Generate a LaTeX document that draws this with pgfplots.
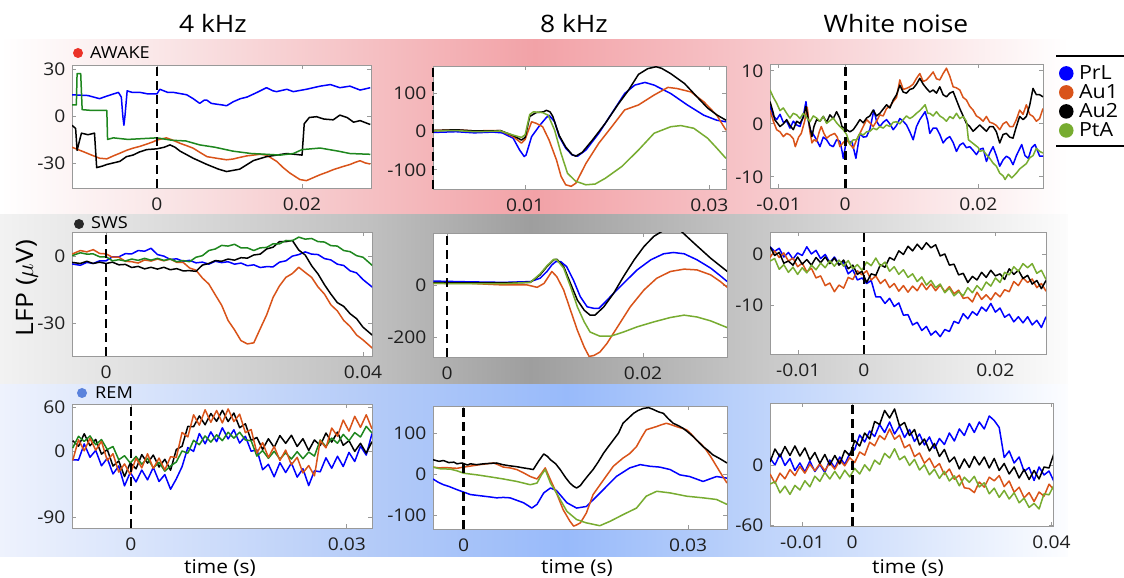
\documentclass[border=0pt]{standalone}
\usepackage{pgfplots}
\pgfplotsset{compat=1.18}
\usepackage{pgfplotstable}
\usepackage{fontspec}
\setmainfont{Open Sans}[FakeStretch=1.1]

\definecolor{cPrL}{RGB}{0,0,255}
\definecolor{cAuOne}{RGB}{217,83,25}
\definecolor{cAuTwo}{RGB}{0,0,0}
\definecolor{cPtA}{RGB}{119,172,48}
\definecolor{cPtAdark}{RGB}{30,135,30}
\definecolor{dotAwake}{RGB}{235,50,40}
\definecolor{dotSws}{RGB}{40,40,40}
\definecolor{dotRem}{RGB}{90,130,220}
% band colours, left to right
\definecolor{awA}{RGB}{255,255,255}\definecolor{awB}{RGB}{250,232,233}
\definecolor{awC}{RGB}{245,192,195}\definecolor{awD}{RGB}{242,162,167}
\definecolor{awE}{RGB}{246,192,196}\definecolor{awF}{RGB}{250,224,226}
\definecolor{swA}{RGB}{242,242,242}\definecolor{swB}{RGB}{222,222,222}
\definecolor{swC}{RGB}{192,192,192}\definecolor{swD}{RGB}{158,158,158}
\definecolor{swE}{RGB}{192,192,192}\definecolor{swF}{RGB}{224,224,224}
\definecolor{swG}{RGB}{252,252,252}
\definecolor{rmA}{RGB}{238,242,253}\definecolor{rmB}{RGB}{215,227,251}
\definecolor{rmC}{RGB}{180,203,248}\definecolor{rmD}{RGB}{152,186,250}
\definecolor{rmE}{RGB}{182,206,250}\definecolor{rmF}{RGB}{217,229,252}
\definecolor{rmG}{RGB}{252,253,255}

\newcommand\ticksize{\fontsize{17.5}{20}\selectfont}
\newcommand\legsize{\fontsize{19.5}{21}\selectfont}
\newcommand\titlesize{\fontsize{24}{27}\selectfont}
\newcommand\statesize{\fontsize{16.5}{19}\selectfont}
\newcommand\labelsize{\fontsize{19}{22}\selectfont}

\pgfplotsset{
  panel/.style={
    scale only axis,
    axis background/.style={fill=white},
    axis line style={draw=black!40, line width=0.8pt},
    tick style={draw=black!40, line width=0.8pt},
    major tick length=4pt,
    tick align=inside,
    scaled ticks=false,
    tick label style={font=\ticksize, text=black!88},
    xticklabel style={yshift=-6pt},
    yticklabel style={xshift=-3pt},
    every axis plot/.append style={line width=1.5pt, line join=round},
  },
  sPrL/.style={color=cPrL},
  sAuOne/.style={color=cAuOne},
  sAuTwo/.style={color=cAuTwo},
  sPtA/.style={color=cPtA},
  sPtAd/.style={color=cPtAdark},
}
% stimulus onset marker
\newcommand\onset[2]{\draw[black, line width=2.6pt, dash pattern=on 9pt off 5pt] (axis cs:0,#1) -- (axis cs:0,#2);}

% SWS, 4 kHz
\pgfplotstableread{
t b o k g
-0.0053 -3.6 0.8 -2.9 0.1
-0.004 -4.2 2.4 -3.4 1.4
-0.003 -2.9 1.8 -2.4 0.8
-0.002 -3.4 2.8 -3.4 0.9
-0.001 -2.2 1.1 -2.8 -0.4
0.000 -2.2 0.9 -3.4 -0.4
0.001 -0.4 -0.6 -2.8 -2.2
0.002 -0.4 -0.6 -4.0 -1.7
0.003 1.0 -2.4 -3.8 -2.3
0.004 0.9 -2.6 -5.2 -1.4
0.005 2.4 -3.2 -4.7 -2.0
0.006 2.1 -1.8 -5.8 -1.1
0.007 3.4 -2.3 -5.1 -1.9
0.008 0.6 -1.4 -5.9 -1.1
0.009 -0.1 -2.2 -5.1 -2.0
0.010 -1.6 -1.4 -6.2 -1.4
0.011 -1.3 -2.9 -5.7 -2.6
0.012 -2.4 -2.9 -6.7 -2.1
0.013 -2.0 -5.4 -6.6 -2.6
0.014 -3.1 -6.4 -6.9 -0.6
0.015 -2.8 -9.9 -4.1 0.1
0.016 -3.7 -12.6 -3.4 2.4
0.017 -2.4 -17.4 -2.1 3.1
0.018 -3.0 -22.1 -2.4 4.7
0.019 -2.6 -28.9 -1.4 4.4
0.020 -3.7 -33.1 -1.9 5.2
0.021 -3.2 -37.9 -0.8 3.6
0.022 -4.4 -39.4 -1.0 3.6
0.023 -4.0 -38.9 0.4 2.4
0.024 -5.2 -32.6 0.8 3.6
0.025 -4.8 -26.4 3.1 3.8
0.026 -4.9 -18.6 3.9 5.4
0.027 -2.8 -13.4 6.4 5.4
0.028 -2.2 -9.6 6.4 6.9
0.029 -0.1 -7.9 6.9 6.8
0.030 0.6 -5.1 2.6 8.4
0.031 1.8 -7.4 0.4 7.5
0.032 0.8 -9.6 -4.4 7.8
0.033 0.6 -13.9 -8.1 6.4
0.034 -1.2 -17.1 -12.9 6.2
0.035 -1.8 -21.9 -17.1 4.6
0.036 -3.7 -24.6 -20.9 4.4
0.037 -4.3 -28.9 -22.6 2.4
0.038 -6.7 -31.6 -25.9 1.9
0.039 -7.6 -35.4 -28.1 0.1
0.040 -10.6 -37.6 -31.9 -0.6
0.0415 -14.1 -41.4 -35.6 -4.4
}\tabSwsFour

% SWS, white noise
\pgfplotstableread{
t b o k g
-0.0143 1.4 -0.7 1.4 -1.4
-0.0136 0.5 0.6 -0.3 -0.9
-0.0129 1.1 -0.7 0.3 -3.0
-0.0122 -0.6 0.2 -1.8 -2.1
-0.0115 0.3 -1.4 -1.4 -3.6
-0.0108 -1.0 -0.8 -2.2 -2.6
-0.0101 0.2 -2.5 -0.6 -4.0
-0.0094 -0.3 -1.8 -2.0 -2.7
-0.0087 1.4 -3.5 -1.1 -3.7
-0.0080 0.0 -2.8 -2.2 -2.2
-0.0073 0.7 -4.7 -0.7 -3.1
-0.0066 -0.9 -4.3 -1.7 -1.8
-0.0059 -0.1 -6.2 -0.6 -2.7
-0.0052 -1.7 -5.7 -1.9 -1.3
-0.0045 -0.6 -7.4 -0.8 -2.4
-0.0038 -2.0 -6.1 -2.2 -1.2
-0.0031 -1.7 -6.7 -1.2 -2.4
-0.0024 -3.9 -4.6 -2.9 -1.3
-0.0017 -3.1 -5.0 -2.2 -2.9
-0.0010 -5.1 -3.3 -4.0 -2.1
-0.0003 -4.7 -4.1 -3.4 -3.2
0.0004 -5.8 -3.3 -5.6 -1.6
0.0011 -5.2 -5.1 -3.9 -2.3
0.0018 -8.4 -4.3 -4.2 -0.8
0.0025 -8.4 -5.8 -2.1 -2.4
0.0032 -9.7 -5.0 -2.6 -1.6
0.0039 -8.7 -6.6 -0.7 -3.4
0.0046 -10.3 -5.8 -1.2 -2.5
0.0053 -9.6 -7.3 0.6 -4.0
0.0060 -12.0 -6.2 -0.1 -3.1
0.0067 -11.9 -7.5 1.5 -4.6
0.0074 -13.9 -6.3 0.6 -3.9
0.0081 -13.4 -7.2 1.9 -5.4
0.0088 -15.0 -5.7 0.9 -4.5
0.0095 -14.2 -7.0 2.2 -6.1
0.0102 -15.9 -5.9 1.2 -5.2
0.0109 -15.1 -7.2 1.8 -6.6
0.0116 -16.2 -6.1 -0.4 -5.9
0.0123 -14.8 -7.4 0.0 -7.6
0.0130 -15.2 -6.4 -2.2 -6.7
0.0137 -13.2 -7.8 -2.0 -8.2
0.0144 -13.6 -7.1 -4.1 -7.4
0.0151 -11.7 -8.7 -3.8 -8.2
0.0158 -12.7 -8.5 -5.6 -6.6
0.0165 -11.3 -9.4 -4.4 -7.6
0.0172 -12.0 -7.5 -5.1 -6.2
0.0179 -10.4 -8.9 -3.6 -7.1
0.0186 -11.2 -8.0 -4.6 -5.5
0.0193 -9.7 -9.0 -3.2 -6.3
0.0200 -11.4 -7.6 -4.3 -4.7
0.0207 -10.6 -8.4 -3.9 -5.6
0.0214 -12.4 -7.0 -5.0 -3.6
0.0221 -11.8 -7.4 -2.9 -4.1
0.0228 -13.3 -5.4 -4.0 -2.5
0.0235 -12.3 -6.2 -3.2 -3.4
0.0242 -13.5 -4.7 -4.8 -1.9
0.0249 -12.3 -5.6 -4.2 -2.7
0.0256 -13.9 -4.9 -5.9 -1.9
0.0263 -13.0 -6.6 -5.2 -3.8
0.0270 -14.4 -5.8 -6.8 -3.2
0.0277 -12.3 -7.3 -5.2 -5.0
}\tabSwsNoise

% REM, 4 kHz
\pgfplotstableread{
t b o k g
-0.0081 -12 -13 14 4
-0.0073 -12.4 15.2 6.4 20
-0.0065 9.6 0.2 23.4 13
-0.0057 -8.6 17.3 7.1 20.5
-0.0049 0.8 1.1 15.7 8.5
-0.0041 -20.2 13.1 -4.3 15.5
-0.0033 -10 -13 2 2
-0.0025 -31.4 -3.8 -20.6 6
-0.0017 -20.4 -28.8 -13.6 -12
-0.0009 -47.6 -17.7 -34.9 -6.5
-0.0001 -29.2 -31.9 -16.3 -16.5
0.0007 -42.2 -9.9 -24.3 -7.5
0.0015 -26 -23 -5 -18
0.0023 -39.4 -3.8 -16.6 -10
0.0031 -22.4 -23.8 -5.6 -23
0.0039 -41.6 -9.7 -21.9 -15.5
0.0047 -32.2 -25.9 -11.3 -27.5
0.0055 -52.2 -7.9 -26.3 -20.5
0.0063 -38 -9 2 -15
0.0071 -21.4 25.2 6.4 0
0.0079 4.6 19.2 33.4 -3
0.0087 -0.6 49.3 33.1 14.5
0.0095 23.8 35.1 47.7 8.5
0.0103 9.8 56.1 35.7 20.5
0.0111 26 39 51 12
0.0119 12.6 55.2 40.4 22
0.0127 31.6 38.2 55.4 14
0.0135 16.4 57.3 40.1 25.5
0.0143 28.8 40.1 51.7 17.5
0.0151 10.8 50.1 31.7 25.5
0.0159 20 25 37 15
0.0167 -0.4 29.2 14.4 14
0.0175 1.6 -2.8 18.4 -7
0.0183 -25.6 11.3 2.1 0.5
0.0191 -18.2 -8.9 16.7 -10
0.0199 -35.2 6.1 4.7 -0.5
0.0207 -16 -13 21 -11
0.0215 -29.4 1.2 10.4 -2.5
0.0223 -16.4 -18.8 21.4 -11
0.0231 -35.6 -8.7 6.1 -1
0.0239 -24.2 -29.9 16.7 -10.5
0.0247 -47.2 -19.9 0.7 -1.5
0.0255 -27 -34 15 -7
0.0263 -28.4 14.2 7.4 15
0.0271 -9.4 4.2 24.4 6
0.0279 -23.6 31.3 12.1 17.5
0.0287 -7.2 20.1 25.7 10.5
0.0295 -21.2 42.1 7.7 22.5
0.0303 -2 27 14 14
0.0311 -14.4 47.2 -0.6 25
0.0319 6.6 32.2 10.4 19
0.0327 -5.6 49.3 -2.9 33.5
0.0335 23.8 30.1 12.7 24.5
}\tabRemFour

% REM, white noise
\pgfplotstableread{
t b o k g
-0.0165 7 -9 3 -19
-0.0155 0 -18.2 16 -16.8
-0.0145 11 -8.2 8 -27.8
-0.0135 -0.5 -13.8 18.5 -21.2
-0.0125 6.5 -4.6 9.5 -29.4
-0.0115 -5.5 -10.6 19 -20.4
-0.0105 2 -1.5 9 -25
-0.0095 -7 -8.2 17 -15.8
-0.0085 4 0.8 5 -21.8
-0.0075 -6.5 -5.8 12.5 -11.2
-0.0065 0.5 1.4 1.5 -16.4
-0.0055 -7.5 -5.6 10.5 -7.4
-0.0045 5 2 0 -14
-0.0035 -3 -4.2 9.5 -6.3
-0.0025 8 4.8 1 -13.8
-0.0015 0.5 -0.8 14.5 -5.2
-0.0005 11.5 7.4 9.5 -11.9
0.0005 15.5 2.4 24.5 -3.4
0.0015 30 13 19 -9
0.0025 23 9.8 32 0.2
0.0035 34 22.8 26 -5.8
0.0045 28.5 19.2 43.5 4.8
0.0055 40.5 29.4 40.5 0.6
0.0065 32.5 25.4 54.5 11.6
0.0075 43 36 47 7
0.0085 31 25.8 56 16.2
0.0095 39 29.8 39 5.2
0.0105 27.5 17.2 42.5 8.8
0.0115 35.5 20.4 29.5 -0.4
0.0125 23.5 8.4 35.5 5.6
0.0135 31 12 20 -5
0.0145 20 1.8 26 0.2
0.0155 28 6.8 14 -9.8
0.0165 16.5 -2.8 21.5 -4.2
0.0175 26.5 1.4 8.5 -13.4
0.0185 20.5 -9.6 15.5 -6.4
0.0195 32 -4 3 -16
0.0205 24 -14.2 8 -10.8
0.0215 36 -10.2 -4 -20.8
0.0225 29.5 -22.8 6 -12.2
0.0235 41.5 -23.6 -2.5 -17.4
0.0245 32.5 -27.6 8.5 -11.4
0.0255 43 -17 0 -22
0.0265 36 -22.2 8 -17.8
0.0275 49 -12.2 -3 -28.8
0.0285 44.5 -15.8 6.5 -23.2
0.0295 37.5 -10.6 -5.5 -32.4
0.0305 7.5 -21.6 1.5 -25.4
0.0315 14 -16 -9 -34
0.0325 2 -27.2 -2 -27.8
0.0335 8 -22.2 -13 -37.8
0.0345 -6.5 -32.8 -4.5 -33.2
0.0355 -2.5 -27.6 -14.5 -42.4
0.0365 -15.5 -36.6 -5.5 -38.4
0.0375 -2 -27 -14 -44
0.0385 -10 -31.2 -2 -28.8
0.0395 -6 -19.2 -3 -29.8
0.0405 -16.5 -24.8 11.5 -20.2
}\tabRemNoise

\begin{document}
\begin{tikzpicture}[x=1pt,y=1pt]
\useasboundingbox (0,0) rectangle (1124,578);

% state bands (horizontal colour ramps)
\shade[left color=awA, right color=awB] (0,363) rectangle (151,538);
\shade[left color=awB, right color=awC] (150,363) rectangle (371,538);
\shade[left color=awC, right color=awD] (370,363) rectangle (535,538);
\shade[left color=awD, right color=awE] (534,363) rectangle (721,538);
\shade[left color=awE, right color=awF] (720,363) rectangle (901,538);
\shade[left color=awF, right color=awA] (900,363) rectangle (1068,538);

\shade[left color=swA, right color=swB] (0,193) rectangle (151,363);
\shade[left color=swB, right color=swC] (150,193) rectangle (371,363);
\shade[left color=swC, right color=swD] (370,193) rectangle (531,363);
\shade[left color=swD, right color=swE] (530,193) rectangle (721,363);
\shade[left color=swE, right color=swF] (720,193) rectangle (901,363);
\shade[left color=swF, right color=swG] (900,193) rectangle (1068,363);

\shade[left color=rmA, right color=rmB] (0,21) rectangle (151,193);
\shade[left color=rmB, right color=rmC] (150,21) rectangle (371,193);
\shade[left color=rmC, right color=rmD] (370,21) rectangle (567,193);
\shade[left color=rmD, right color=rmE] (566,21) rectangle (721,193);
\shade[left color=rmE, right color=rmF] (720,21) rectangle (901,193);
\shade[left color=rmF, right color=rmG] (900,21) rectangle (1068,193);

% column titles
\node[font=\titlesize, anchor=base] at (213,545) {4 kHz};
\node[font=\titlesize, anchor=base] at (574,545) {8 kHz};
\node[font=\titlesize, anchor=base] at (896,545) {White noise};

% state labels
\fill[dotAwake] (78,525) circle (5);
\node[font=\statesize, anchor=base west, inner sep=0pt] at (90,519) {AWAKE};
\fill[dotSws] (79,354) circle (5);
\node[font=\statesize, anchor=base west, inner sep=0pt] at (91,349) {SWS};
\fill[dotRem] (82,185) circle (5);
\node[font=\statesize, anchor=base west, inner sep=0pt] at (95,179) {REM};

% shared labels
\node[font=\titlesize, rotate=90, anchor=base, inner sep=0pt] at (33,290) {LFP ($\mu$V)};
\node[font=\labelsize, anchor=base, inner sep=0pt] at (220,5) {time (s)};
\node[font=\labelsize, anchor=base, inner sep=0pt] at (577,5) {time (s)};
\node[font=\labelsize, anchor=base, inner sep=0pt] at (908,5) {time (s)};

%---------------- AWAKE, 4 kHz
\begin{axis}[panel, at={(72pt,390pt)}, anchor=south west, width=299pt, height=123pt,
  xmin=-0.0117, xmax=0.0295, ymin=-46, ymax=32.5,
  xtick={0,0.02}, xticklabels={0,0.02}, ytick={-30,0,30}, yticklabels={-30,0,30}]
\addplot[sPrL] coordinates {(-0.0117,13.5) (-0.0095,13) (-0.0079,11) (-0.0070,12.5) (-0.0060,14) (-0.0053,15) (-0.0049,12) (-0.0047,0) (-0.00455,-6) (-0.0044,0) (-0.0041,16) (-0.0034,15) (-0.0023,15) (-0.0012,14) (0.0000,14) (0.0004,17) (0.0015,15) (0.0023,15) (0.0035,14) (0.0041,13.5) (0.0050,11) (0.0059,8) (0.0065,10) (0.0069,10) (0.0075,8) (0.0082,7.5) (0.0090,7) (0.0096,6.5) (0.0105,9) (0.0115,11) (0.0124,12) (0.0138,15) (0.0151,18) (0.0160,16) (0.0165,15.5) (0.0179,17) (0.0188,15.5) (0.0206,17) (0.0225,19) (0.0239,20) (0.0252,18) (0.0266,19) (0.0280,16.5) (0.0294,18)};
\addplot[sAuOne] coordinates {(-0.0117,-20) (-0.0102,-22.7) (-0.0090,-25) (-0.0079,-27) (-0.0069,-27.4) (-0.0060,-25.5) (-0.0051,-23.8) (-0.0042,-22) (-0.0033,-20.6) (-0.0024,-19.5) (-0.0014,-18) (-0.0005,-16.5) (0.0000,-15.4) (0.0013,-14) (0.0022,-15.5) (0.0032,-17.5) (0.0041,-19) (0.0050,-20.6) (0.0060,-23.5) (0.0069,-26) (0.0082,-27) (0.0096,-28) (0.0105,-27.5) (0.0114,-26.5) (0.0124,-25.5) (0.0133,-25) (0.0142,-24.5) (0.0151,-25) (0.0165,-29) (0.0174,-33) (0.0183,-36.4) (0.0197,-40.6) (0.0206,-41.3) (0.0215,-39.5) (0.0225,-37.5) (0.0234,-36) (0.0243,-34.3) (0.0255,-32.5) (0.0266,-31) (0.0274,-29.5) (0.0280,-28.6) (0.0287,-30) (0.0294,-30.7)};
\addplot[sAuTwo] coordinates {(-0.0117,-6) (-0.0112,-8) (-0.0110,-22) (-0.0104,-11) (-0.0095,-12) (-0.0086,-11) (-0.0083,-33) (-0.0075,-32) (-0.0069,-31) (-0.0060,-30) (-0.0051,-29) (-0.0042,-26) (-0.0033,-25) (-0.0024,-23) (-0.0014,-21.5) (0,-21) (0.0010,-20) (0.0018,-18.5) (0.0025,-20) (0.0032,-22.5) (0.0050,-27) (0.0069,-31) (0.0085,-34) (0.0096,-35.5) (0.0114,-34) (0.0133,-28.5) (0.0151,-26) (0.0165,-25) (0.0179,-24) (0.0190,-24.5) (0.0200,-25) (0.0203,-5) (0.0210,-1) (0.0220,-0.5) (0.0230,-2) (0.0243,-2.5) (0.0252,0.5) (0.0262,-1) (0.0271,-4) (0.0280,-3) (0.0294,-5.5)};
\addplot[sPtAd] coordinates {(-0.0117,7) (-0.0111,7) (-0.0110,27) (-0.0105,27) (-0.0103,4) (-0.0090,3.5) (-0.0069,3.5) (-0.0068,-15) (-0.0060,-14) (-0.0040,-15) (-0.0020,-14.5) (0,-14) (0.0020,-15.5) (0.0040,-16) (0.0059,-18.5) (0.0080,-20) (0.0105,-22.5) (0.0130,-24) (0.0151,-24.5) (0.0170,-25) (0.0188,-24) (0.0200,-21.5) (0.0225,-20.5) (0.0250,-22.5) (0.0266,-24) (0.0294,-24.5)};
\onset{-46}{32.5}
\end{axis}

%---------------- AWAKE, 8 kHz (all traces lie inside the limits)
\begin{axis}[panel, at={(433pt,389pt)}, anchor=south west, width=293pt, height=123pt,
  xmin=0, xmax=0.0318, ymin=-150, ymax=172, clip=false,
  xtick={0.01,0.03}, xticklabels={0.01,0.03}, ytick={-100,0,100}, yticklabels={-100,0,100}]
\addplot[sPrL] coordinates {(0,-2) (0.0025,0) (0.0045,-3) (0.0065,-1) (0.0075,-3) (0.0087,-17) (0.0094,-48) (0.0099,-65) (0.0101,-61) (0.0107,-13) (0.0116,17) (0.0123,37) (0.0126,43) (0.0132,26) (0.0137,-13) (0.0144,-43) (0.0151,-61) (0.0157,-64) (0.0166,-48) (0.0180,-4) (0.0194,48) (0.0208,100) (0.0219,122) (0.0230,129) (0.0240,122) (0.0258,100) (0.0276,70) (0.0294,43) (0.0308,30) (0.0318,26)};
\addplot[sAuOne] coordinates {(0,3) (0.0025,5) (0.0045,2) (0.0065,3) (0.0073,3) (0.0087,-13) (0.0096,-30) (0.0100,-20) (0.0107,26) (0.0112,22) (0.0119,13) (0.0126,-22) (0.0134,-74) (0.0139,-117) (0.0144,-139) (0.0150,-143) (0.0155,-135) (0.0166,-83) (0.0180,-30) (0.0194,13) (0.0208,57) (0.0223,70) (0.0240,96) (0.0255,116) (0.0265,113) (0.0280,104) (0.0294,78) (0.0308,43) (0.0318,4)};
\addplot[sAuTwo] coordinates {(0,3) (0.0025,5) (0.0045,2) (0.0065,2) (0.0073,3) (0.0087,-10) (0.0096,-22) (0.0100,-15) (0.0105,40) (0.0112,50) (0.0120,52) (0.0123,56) (0.0127,52) (0.0130,40) (0.0137,-10) (0.0144,-40) (0.0151,-60) (0.0155,-64) (0.0162,-54) (0.0173,-22) (0.0187,22) (0.0201,72) (0.0212,108) (0.0223,150) (0.0233,165) (0.0242,170) (0.0248,166) (0.0258,152) (0.0273,126) (0.0287,90) (0.0298,62) (0.0308,44) (0.0318,30)};
\addplot[sPtA] coordinates {(0,2) (0.0025,3) (0.0045,0) (0.0065,1) (0.0073,2) (0.0087,-9) (0.0096,-15) (0.0100,-8) (0.0105,45) (0.0109,52) (0.0119,50) (0.0125,43) (0.0132,4) (0.0139,-57) (0.0146,-109) (0.0155,-130) (0.0166,-139) (0.0176,-137) (0.0187,-122) (0.0205,-91) (0.0223,-48) (0.0240,-4) (0.0258,13) (0.0269,16) (0.0283,9) (0.0298,-17) (0.0308,-43) (0.0318,-70)};
\onset{-150}{172}
\end{axis}

%---------------- AWAKE, white noise (with legend)
\begin{axis}[panel, at={(770pt,390pt)}, anchor=south west, width=273pt, height=124pt,
  xmin=-0.0113, xmax=0.0297, ymin=-12.1, ymax=11.3,
  xtick={-0.01,0,0.02}, xticklabels={-0.01,0,0.02}, ytick={-10,0,10}, yticklabels={-10,0,10},
  legend style={at={(1.058,1.0)}, anchor=north west, draw=none, fill=none, font=\legsize,
    row sep=0.5pt, column sep=4pt, inner sep=0pt, nodes={inner sep=1.5pt}},
  legend cell align=left,
  legend image code/.code={\fill (0pt,0pt) circle (6.5pt);}]
\addplot[sPrL] coordinates {(-0.0113,3.3) (-0.0108,1.5) (-0.0103,0.8) (-0.0098,1.8) (-0.0093,0.3) (-0.0088,0.5) (-0.0083,-0.8) (-0.0078,0.5) (-0.0073,-0.2) (-0.0068,-0.5) (-0.0063,1.5) (-0.0059,4.2) (-0.0056,1.0) (-0.0053,-1.1) (-0.0048,-2.0) (-0.0043,-3.0) (-0.0038,-4.3) (-0.0033,-2.5) (-0.0028,-3.0) (-0.0023,-4.0) (-0.0018,-4.3) (-0.0013,-3.0) (-0.0008,-3.3) (-0.0005,-5.0) (-0.0003,-6.5) (0.0002,-3.0) (0.0007,-3.5) (0.0010,-3.3) (0.0016,-6.5) (0.0022,-1.8) (0.0027,-2.5) (0.0032,-2.4) (0.0037,-1.0) (0.0043,2.6) (0.0047,0.5) (0.0052,-0.5) (0.0057,0.3) (0.0062,0.8) (0.0067,0.0) (0.0072,-1.1) (0.0077,-0.3) (0.0082,1.0) (0.0087,0.5) (0.0092,-0.2) (0.0097,-1.5) (0.0102,-3.0) (0.0107,-0.5) (0.0112,0.8) (0.0120,2.3) (0.0124,0.5) (0.0127,-1.8) (0.0132,-0.8) (0.0137,-0.8) (0.0142,-2.0) (0.0147,-3.6) (0.0152,-2.8) (0.0157,-2.4) (0.0162,-3.5) (0.0167,-5.2) (0.0172,-4.0) (0.0177,-3.6) (0.0182,-4.5) (0.0187,-4.3) (0.0192,-5.0) (0.0197,-5.8) (0.0202,-4.8) (0.0207,-4.6) (0.0212,-7.1) (0.0217,-5.5) (0.0222,-4.3) (0.0227,-6.0) (0.0232,-8.0) (0.0237,-6.8) (0.0242,-6.1) (0.0247,-6.5) (0.0252,-7.7) (0.0257,-6.0) (0.0265,-3.9) (0.0270,-6.0) (0.0275,-6.5) (0.0280,-4.5) (0.0285,-3.9) (0.0292,-6.1) (0.0297,-6.1)};
\addlegendentry{PrL}
\addplot[sAuOne] coordinates {(-0.0113,2.6) (-0.0108,0.5) (-0.0103,-1.1) (-0.0098,-1.5) (-0.0093,-2.4) (-0.0088,-1.8) (-0.0083,-2.1) (-0.0078,-2.8) (-0.0075,-4.3) (-0.0070,-2.5) (-0.0066,-1.8) (-0.0061,0.5) (-0.0057,3.1) (-0.0053,-1.5) (-0.0050,-3.6) (-0.0047,-3.0) (-0.0043,-3.3) (-0.0039,-1.5) (-0.0036,-0.5) (-0.0032,-1.8) (-0.0028,-2.7) (-0.0023,-2.2) (-0.0016,-1.8) (-0.0012,-2.5) (-0.0008,-4.3) (-0.0003,-3.5) (0.0002,-3.0) (0.0007,-3.8) (0.0012,-4.6) (0.0017,-3.0) (0.0022,-1.8) (0.0027,-0.5) (0.0032,0.8) (0.0037,0.2) (0.0042,-0.5) (0.0047,0.5) (0.0052,1.7) (0.0057,1.5) (0.0062,2.9) (0.0067,3.3) (0.0072,4.2) (0.0077,5.0) (0.0082,8.3) (0.0087,6.5) (0.0092,6.7) (0.0097,7.0) (0.0102,7.5) (0.0107,8.6) (0.0112,9.5) (0.0117,8.0) (0.0122,8.3) (0.0127,9.0) (0.0132,9.8) (0.0137,8.5) (0.0142,8.3) (0.0147,9.5) (0.0152,10.5) (0.0157,9.0) (0.0162,7.0) (0.0167,6.8) (0.0172,6.4) (0.0177,5.0) (0.0182,4.5) (0.0187,3.3) (0.0192,2.6) (0.0197,1.5) (0.0202,1.1) (0.0207,0.5) (0.0212,1.4) (0.0217,0.3) (0.0222,0.1) (0.0227,-0.3) (0.0232,-1.1) (0.0237,0.0) (0.0242,0.4) (0.0247,-0.5) (0.0252,-0.5) (0.0257,0.8) (0.0262,2.6) (0.0267,1.8) (0.0272,3.6) (0.0277,1.8) (0.0282,1.4) (0.0287,0.5) (0.0292,1.0) (0.0297,2.9)};
\addlegendentry{Au1}
\addplot[sAuTwo] coordinates {(-0.0113,4.2) (-0.0108,2.0) (-0.0106,0.8) (-0.0101,0.0) (-0.0098,-0.5) (-0.0093,0.0) (-0.0088,0.8) (-0.0083,-0.3) (-0.0078,-1.1) (-0.0073,0.5) (-0.0068,0.1) (-0.0063,1.2) (-0.0059,3.3) (-0.0055,0.5) (-0.0050,-2.4) (-0.0047,-0.5) (-0.0043,0.8) (-0.0038,0.5) (-0.0033,1.4) (-0.0028,0.3) (-0.0023,1.7) (-0.0018,1.0) (-0.0013,2.3) (-0.0008,1.0) (-0.0005,-0.5) (0.0002,-1.1) (0.0007,-1.5) (0.0012,-1.1) (0.0017,-0.2) (0.0022,0.8) (0.0027,0.2) (0.0032,1.1) (0.0037,1.5) (0.0042,2.6) (0.0047,1.5) (0.0052,2.0) (0.0057,2.8) (0.0062,3.6) (0.0067,3.0) (0.0072,4.5) (0.0077,5.5) (0.0082,7.3) (0.0087,6.0) (0.0092,5.8) (0.0097,6.5) (0.0102,6.7) (0.0107,7.5) (0.0112,8.6) (0.0117,7.5) (0.0122,6.7) (0.0127,6.0) (0.0132,6.4) (0.0137,5.8) (0.0142,7.0) (0.0147,5.5) (0.0152,5.1) (0.0157,5.8) (0.0162,6.1) (0.0167,4.5) (0.0172,2.9) (0.0177,1.5) (0.0182,0.1) (0.0187,-0.5) (0.0192,-1.4) (0.0197,-0.8) (0.0202,-0.2) (0.0207,-0.8) (0.0212,-1.4) (0.0217,-0.5) (0.0222,-0.5) (0.0227,-1.5) (0.0232,-3.6) (0.0237,-2.0) (0.0242,-1.8) (0.0247,-2.5) (0.0252,-2.7) (0.0257,-0.5) (0.0262,1.4) (0.0267,0.8) (0.0272,1.4) (0.0277,3.5) (0.0282,6.7) (0.0287,5.5) (0.0292,5.5) (0.0297,5.1)};
\addlegendentry{Au2}
\addplot[sPtA] coordinates {(-0.0113,6.4) (-0.0108,5.0) (-0.0103,3.9) (-0.0098,2.5) (-0.0093,3.0) (-0.0088,2.0) (-0.0083,1.1) (-0.0078,2.0) (-0.0073,1.7) (-0.0068,1.0) (-0.0063,2.0) (-0.0058,1.2) (-0.0053,0.4) (-0.0048,1.5) (-0.0043,1.1) (-0.0038,0.5) (-0.0033,1.4) (-0.0028,0.1) (-0.0023,0.6) (-0.0018,1.1) (-0.0013,0.2) (-0.0008,-0.5) (-0.0003,-1.1) (0.0002,-2.0) (0.0007,-3.9) (0.0012,-3.0) (0.0017,-3.0) (0.0022,-1.8) (0.0027,-2.1) (0.0032,-1.5) (0.0037,-1.4) (0.0042,-0.8) (0.0047,-1.1) (0.0052,-0.5) (0.0057,-0.8) (0.0062,-0.2) (0.0067,-0.5) (0.0072,0.3) (0.0077,0.4) (0.0082,0.0) (0.0087,0.8) (0.0092,1.5) (0.0097,1.0) (0.0102,1.4) (0.0107,2.0) (0.0112,2.5) (0.0120,3.6) (0.0124,2.0) (0.0127,2.0) (0.0132,1.5) (0.0137,2.3) (0.0142,1.5) (0.0147,1.1) (0.0152,0.5) (0.0157,1.4) (0.0162,1.0) (0.0167,2.0) (0.0172,1.0) (0.0177,1.4) (0.0182,0.5) (0.0185,-3.0) (0.0190,-3.5) (0.0195,-4.0) (0.0200,-4.5) (0.0202,-5.2) (0.0207,-5.0) (0.0212,-5.8) (0.0217,-6.5) (0.0222,-7.4) (0.0227,-8.0) (0.0232,-9.3) (0.0237,-9.8) (0.0240,-10.5) (0.0245,-9.5) (0.0250,-10.2) (0.0257,-9.3) (0.0262,-8.5) (0.0267,-8.0) (0.0272,-7.5) (0.0277,-6.4) (0.0282,-6.0) (0.0287,-4.6) (0.0292,-5.2) (0.0297,-5.5)};
\addlegendentry{PtA}
\onset{-12.1}{11.3}
\end{axis}
% legend rules
\draw[line width=1.6pt] (1056,522) -- (1124,522);
\draw[line width=1.6pt] (1056,432) -- (1124,432);

%---------------- SWS, 4 kHz
\begin{axis}[panel, at={(72pt,222pt)}, anchor=south west, width=300pt, height=124pt,
  xmin=-0.0053, xmax=0.0414, ymin=-44.8, ymax=10.7,
  xtick={0,0.04}, xticklabels={0,0.04}, ytick={-30,0}, yticklabels={-30,0}]
\addplot[sPrL] table[x=t,y=b]{\tabSwsFour};
\addplot[sAuOne] table[x=t,y=o]{\tabSwsFour};
\addplot[sAuTwo] table[x=t,y=k]{\tabSwsFour};
\addplot[sPtAd] table[x=t,y=g]{\tabSwsFour};
\onset{-44.8}{10.7}
\end{axis}

%---------------- SWS, 8 kHz
\begin{axis}[panel, at={(433pt,221pt)}, anchor=south west, width=294pt, height=124pt,
  xmin=-0.00143, xmax=0.02857, ymin=-277, ymax=200,
  xtick={0,0.02}, xticklabels={0,0.02}, ytick={-200,0}, yticklabels={-200,0}]
\addplot[sPrL] coordinates {(-0.0014,15) (0.0024,12) (0.0058,10) (0.0085,13) (0.0095,26) (0.0102,52) (0.0107,77) (0.0111,90) (0.0116,90) (0.0122,71) (0.0129,19) (0.0136,-45) (0.0143,-84) (0.0150,-90) (0.0155,-90) (0.0160,-71) (0.0170,-32) (0.0180,6) (0.0194,58) (0.0208,97) (0.0221,120) (0.0231,125) (0.0242,120) (0.0255,97) (0.0269,65) (0.0279,35) (0.0286,13)};
\addplot[sAuOne] coordinates {(-0.0014,6) (0.0024,6) (0.0058,0) (0.0082,0) (0.0092,-9) (0.0099,6) (0.0107,52) (0.0112,32) (0.0119,-19) (0.0126,-97) (0.0133,-174) (0.0140,-239) (0.0145,-275) (0.0150,-271) (0.0156,-258) (0.0163,-226) (0.0174,-161) (0.0187,-84) (0.0201,-19) (0.0214,26) (0.0228,52) (0.0242,61) (0.0255,58) (0.0269,39) (0.0279,13) (0.0286,-9)};
\addplot[sAuTwo] coordinates {(-0.0014,9) (0.0024,8) (0.0058,8) (0.0085,10) (0.0095,39) (0.0102,71) (0.0109,97) (0.0112,99) (0.0119,71) (0.0126,6) (0.0133,-58) (0.0140,-97) (0.0146,-116) (0.0151,-116) (0.0160,-84) (0.0170,-32) (0.0180,32) (0.0191,97) (0.0201,148) (0.0211,187) (0.0221,210) (0.0230,218) (0.0238,210) (0.0252,161) (0.0269,103) (0.0286,52)};
\addplot[sPtA] coordinates {(-0.0014,6) (0.0024,5) (0.0058,5) (0.0085,10) (0.0095,43) (0.0102,74) (0.0109,99) (0.0112,97) (0.0119,65) (0.0126,-6) (0.0133,-84) (0.0140,-142) (0.0146,-181) (0.0156,-197) (0.0167,-197) (0.0180,-181) (0.0194,-161) (0.0211,-142) (0.0228,-125) (0.0242,-116) (0.0255,-123) (0.0269,-138) (0.0286,-164)};
\onset{-277}{200}
\end{axis}

%---------------- SWS, white noise
\begin{axis}[panel, at={(770pt,224pt)}, anchor=south west, width=276pt, height=122pt,
  xmin=-0.0143, xmax=0.0277, ymin=-19.6, ymax=4.3,
  xtick={-0.01,0,0.02}, xticklabels={-0.01,0,0.02}, ytick={-10,0}, yticklabels={-10,0}]
\addplot[sPrL] table[x=t,y=b]{\tabSwsNoise};
\addplot[sAuOne] table[x=t,y=o]{\tabSwsNoise};
\addplot[sAuTwo] table[x=t,y=k]{\tabSwsNoise};
\addplot[sPtA] table[x=t,y=g]{\tabSwsNoise};
\onset{-19.6}{4.3}
\end{axis}

%---------------- REM, 4 kHz
\begin{axis}[panel, at={(72pt,50pt)}, anchor=south west, width=300pt, height=124pt,
  xmin=-0.0082, xmax=0.0335, ymin=-105, ymax=64,
  xtick={0,0.03}, xticklabels={0,0.03}, ytick={-90,0,60}, yticklabels={-90,0,60}]
\addplot[sPrL] table[x=t,y=b]{\tabRemFour};
\addplot[sAuTwo] table[x=t,y=k]{\tabRemFour};
\addplot[sPtAd] table[x=t,y=g]{\tabRemFour};
\addplot[sAuOne] table[x=t,y=o]{\tabRemFour};
\onset{-105}{64}
\end{axis}

%---------------- REM, 8 kHz
\begin{axis}[panel, at={(433pt,49pt)}, anchor=south west, width=294pt, height=123pt,
  xmin=-0.0041, xmax=0.0352, ymin=-134, ymax=166,
  xtick={0,0.03}, xticklabels={0,0.03}, ytick={-100,0,100}, yticklabels={-100,0,100}]
\addplot[sPrL] coordinates {(-0.0041,-12) (-0.0034,-20) (-0.0027,-26) (-0.0020,-30) (-0.0009,-38) (0.0000,-44) (0.0009,-50) (0.0018,-52) (0.0027,-54) (0.0036,-56) (0.0044,-58) (0.0053,-57) (0.0062,-58) (0.0071,-64) (0.0080,-70) (0.0087,-78) (0.0091,-83) (0.0098,-74) (0.0107,-46) (0.0116,-34) (0.0124,-40) (0.0138,-70) (0.0151,-83) (0.0164,-79) (0.0178,-54) (0.0191,-30) (0.0204,-6) (0.0222,15) (0.0236,23) (0.0249,19) (0.0262,17) (0.0276,11) (0.0289,-2) (0.0302,-6) (0.0320,-18) (0.0338,-6) (0.0352,-10)};
\addplot[sAuOne] coordinates {(-0.0041,17) (-0.0033,15) (-0.0025,16) (-0.0018,15) (-0.0009,14) (0.0000,17) (0.0011,20) (0.0022,23) (0.0031,25) (0.0040,27) (0.0047,22) (0.0053,17) (0.0062,15) (0.0071,11) (0.0080,3) (0.0089,-6) (0.0098,-12) (0.0104,2) (0.0109,15) (0.0116,-14) (0.0124,-46) (0.0133,-87) (0.0142,-115) (0.0147,-127) (0.0151,-124) (0.0156,-119) (0.0164,-95) (0.0173,-50) (0.0187,-14) (0.0200,19) (0.0213,39) (0.0222,50) (0.0231,67) (0.0238,90) (0.0244,108) (0.0251,112) (0.0258,116) (0.0264,120) (0.0271,124) (0.0278,120) (0.0284,116) (0.0291,112) (0.0298,108) (0.0304,98) (0.0311,83) (0.0318,72) (0.0324,59) (0.0331,40) (0.0338,19) (0.0345,-2) (0.0352,-22)};
\addplot[sAuTwo] coordinates {(-0.0041,35) (-0.0033,31) (-0.0027,33) (-0.0020,28) (-0.0013,29) (-0.0009,25) (-0.0002,27) (0.0005,22) (0.0009,25) (0.0017,23) (0.0027,25) (0.0035,26) (0.0044,27) (0.0052,23) (0.0062,20) (0.0071,18) (0.0080,15) (0.0087,13) (0.0093,11) (0.0100,31) (0.0107,49) (0.0112,43) (0.0116,35) (0.0123,25) (0.0129,11) (0.0136,-8) (0.0142,-22) (0.0147,-30) (0.0151,-34) (0.0156,-28) (0.0160,-18) (0.0167,-2) (0.0173,11) (0.0180,30) (0.0187,51) (0.0193,66) (0.0200,83) (0.0207,100) (0.0213,124) (0.0220,136) (0.0227,148) (0.0233,155) (0.0240,160) (0.0247,162) (0.0253,158) (0.0260,152) (0.0267,148) (0.0273,136) (0.0280,124) (0.0287,118) (0.0293,112) (0.0300,102) (0.0307,91) (0.0313,80) (0.0320,67) (0.0327,57) (0.0333,47) (0.0342,38) (0.0352,27)};
\addplot[sPtA] coordinates {(-0.0041,17) (-0.0032,13) (-0.0018,12) (-0.0009,8) (0.0000,2) (0.0018,-2) (0.0036,-7) (0.0053,-12) (0.0071,-18) (0.0089,-26) (0.0098,-22) (0.0104,-2) (0.0109,11) (0.0116,-22) (0.0124,-46) (0.0138,-91) (0.0151,-111) (0.0164,-119) (0.0182,-126) (0.0196,-115) (0.0213,-99) (0.0231,-83) (0.0244,-54) (0.0258,-42) (0.0276,-46) (0.0298,-54) (0.0320,-58) (0.0338,-62) (0.0352,-74)};
\onset{-134}{166}
\end{axis}

%---------------- REM, white noise
\begin{axis}[panel, at={(770pt,52pt)}, anchor=south west, width=283pt, height=123pt,
  xmin=-0.0165, xmax=0.0403, ymin=-61, ymax=62,
  xtick={-0.01,0,0.04}, xticklabels={-0.01,0,0.04}, ytick={-60,0}, yticklabels={-60,0}]
\addplot[sPrL] table[x=t,y=b]{\tabRemNoise};
\addplot[sAuOne] table[x=t,y=o]{\tabRemNoise};
\addplot[sAuTwo] table[x=t,y=k]{\tabRemNoise};
\addplot[sPtA] table[x=t,y=g]{\tabRemNoise};
\onset{-61}{62}
\end{axis}
\end{tikzpicture}
\end{document}
